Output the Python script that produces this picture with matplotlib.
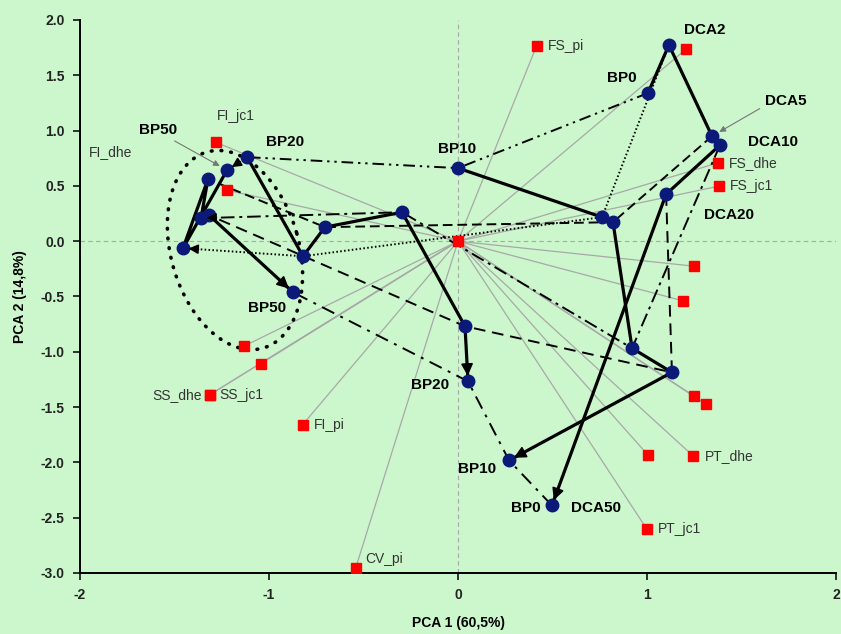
import numpy as np
import matplotlib
matplotlib.use("Agg")
import matplotlib.pyplot as plt

plt.rcParams["font.family"] = ["Liberation Sans", "DejaVu Sans"]

# ---------------------------------------------------------------------------
# Data
# ---------------------------------------------------------------------------

# variable loadings (red squares, joined to the origin)
var_names = ["FS_pi", "", "FI_jc1", "", "FS_dhe", "FS_jc1", "", "", "", "",
             "", "PT_dhe", "PT_jc1", "FI_pi", "SS_dhe", "SS_jc1", "", "", "CV_pi"]
var_x = [0.416, 1.206, -1.280, -1.224, 1.377, 1.381, 1.250, 1.192, 1.249, 1.312,
         1.007, 1.245, 0.998, -0.822, -1.312, -1.312, -1.042, -1.130, -0.541]
var_y = [1.767, 1.735, 0.893, 0.462, 0.709, 0.498, -0.226, -0.540, -1.400, -1.475,
         -1.937, -1.943, -2.600, -1.659, -1.387, -1.387, -1.107, -0.947, -2.953]

# sample scores: one trajectory per BP dose, sampled at the same days
days = [0, 2, 5, 10, 20, 50]
bp0_x = [1.005, 1.116, 1.344, 1.386, 1.101, 0.497]
bp0_y = [1.339, 1.774, 0.950, 0.869, 0.425, -2.389]
bp10_x = [0.000, 0.762, 0.820, 0.921, 1.132, 0.270]
bp10_y = [0.661, 0.217, 0.172, -0.968, -1.186, -1.982]
bp20_x = [-1.116, -0.820, -0.704, -0.296, 0.037, 0.053]
bp20_y = [0.760, -0.136, 0.127, 0.262, -0.769, -1.267]
bp50_x = [-1.222, -1.455, -1.323, -1.360, -1.317, -0.873]
bp50_y = [0.643, -0.063, 0.561, 0.208, 0.235, -0.462]

series = {"BP0": (bp0_x, bp0_y), "BP10": (bp10_x, bp10_y),
          "BP20": (bp20_x, bp20_y), "BP50": (bp50_x, bp50_y)}

# point labels: (text, series, day index)
point_labels = [("DCA2", "BP0", 1), ("BP0", "BP0", 0), ("DCA10", "BP0", 3),
                ("DCA20", "BP0", 4), ("BP10", "BP10", 0), ("BP20", "BP20", 0),
                ("BP50", "BP50", 5), ("BP20", "BP20", 5), ("BP10", "BP10", 5),
                ("BP0", "BP0", 5), ("DCA50", "BP0", 5)]

# ---------------------------------------------------------------------------
# Styles / layout
# ---------------------------------------------------------------------------
BG = "#ccf7cc"
NAVY = "#0b1a78"
GREY = "#a8a8a8"

var_offsets = {"FS_pi": (8, 0, "left"), "FI_jc1": (14, 19, "center"),
               "FS_dhe": (8, 0, "left"), "FS_jc1": (8, 0, "left"),
               "PT_dhe": (8, 0, "left"), "PT_jc1": (8, 0, "left"),
               "FI_pi": (8, 0, "left"), "SS_dhe": (-6, 0, "right"),
               "SS_jc1": (7, 0, "left"), "CV_pi": (7, 6, "left")}
label_offsets = [(26, 11), (-19, 11), (38, 2), (45, -15), (-1, 14), (27, 11),
                 (-19, -11), (-27, -3), (-23, -6), (-19, -2), (32, -2)]

day_styles = {0: (0, (6, 2.5, 1.2, 2.5, 1.2, 2.5)),
              2: (0, (0.8, 1.2)),
              5: (0, (5, 2.5)),
              10: (0, (7, 2.5, 1.5, 2.5)),
              20: (0, (6, 3.5)),
              50: (0, (7, 3.5, 1.5, 3.5))}
day_arrows = {0, 2, 10}


def arrow_head(ax, p0, p1, back=5.5, length=10, scale=16):
    """Draw a filled arrow head pointing at p1 (data), stopping at the marker edge."""
    tr = ax.transData
    a = tr.transform(p0)
    b = tr.transform(p1)
    u = (b - a) / np.hypot(*(b - a))
    tip = b - u * back
    base = tip - u * length
    inv = tr.inverted()
    ax.annotate("", xy=inv.transform(tip), xytext=inv.transform(base),
                arrowprops=dict(arrowstyle="-|>", color="black", lw=1.2,
                                shrinkA=0, shrinkB=0, mutation_scale=scale),
                zorder=6)


fig = plt.figure(figsize=(8.41, 6.34), dpi=100, facecolor=BG)
ax = fig.add_axes([80 / 841, 61 / 634, 756 / 841, 553 / 634], facecolor=BG)
ax.set_xlim(-2, 2)
ax.set_ylim(-3, 2)

# reference axes through the origin
ax.axhline(0, color=GREY, lw=0.8, ls=(0, (4, 3)), zorder=1)
ax.axvline(0, color=GREY, lw=0.8, ls=(0, (4, 3)), zorder=1)

# loading vectors
for vx, vy in zip(var_x, var_y):
    ax.plot([0, vx], [0, vy], color=GREY, lw=0.9, zorder=1)

# dotted ellipse round the BP50 group (drawn in pixel units, top leaning left)
bbox = ax.get_window_extent()
sx, sy = bbox.width / 4, bbox.height / 5
t = np.linspace(0, 2 * np.pi, 200)
phi = np.deg2rad(-16)
ex = 64 * np.cos(t) * np.cos(phi) + 102 * np.sin(t) * np.sin(phi)
ey = -64 * np.cos(t) * np.sin(phi) + 102 * np.sin(t) * np.cos(phi)
ax.plot(-1.18 + ex / sx, -0.08 + ey / sy, color="black", lw=2.6,
        ls=(0, (0.2, 2.5)), dash_capstyle="round", zorder=2)

# same-day lines across doses
order = ["BP0", "BP10", "BP20", "BP50"]
for i, d in enumerate(days):
    xs = [series[k][0][i] for k in order]
    ys = [series[k][1][i] for k in order]
    ax.plot(xs, ys, color="black", lw=1.4, ls=day_styles[d], zorder=2)
    if d in day_arrows:
        arrow_head(ax, (xs[-2], ys[-2]), (xs[-1], ys[-1]), scale=14)

# dose trajectories over time
for k in order:
    xs, ys = series[k]
    ax.plot(xs, ys, color="black", lw=2.3, solid_capstyle="round", zorder=3)
    arrow_head(ax, (xs[-2], ys[-2]), (xs[-1], ys[-1]), scale=18)

# variable squares
ax.plot(var_x, var_y, "s", color="#ff0000", ms=6.5, zorder=4)
ax.plot(0, 0, "s", color="#ff0000", ms=6.5, zorder=4)
for name, vx, vy in zip(var_names, var_x, var_y):
    if name and name in var_offsets:
        dx, dy, ha = var_offsets[name]
        ax.annotate(name, (vx, vy), xytext=(dx, dy), textcoords="offset points",
                    ha=ha, va="center", fontsize=10, color="#333333", zorder=7)
ax.text(-1.955, 0.805, "FI_dhe", ha="left", va="center", fontsize=10,
        color="#333333")

# sample points
for k in order:
    ax.plot(series[k][0], series[k][1], "o", color=NAVY, ms=9, zorder=5)

for (txt, key, idx), (dx, dy) in zip(point_labels, label_offsets):
    px, py = series[key][0][idx], series[key][1][idx]
    ax.annotate(txt, (px, py), xytext=(dx, dy), textcoords="offset points",
                ha="center", va="center", fontsize=11, fontweight="bold",
                zorder=7)

# labels with leaders
ax.annotate("DCA5", (bp0_x[2], bp0_y[2]), xytext=(53, 25), textcoords="offset points",
            ha="center", va="center", fontsize=11, fontweight="bold", zorder=7,
            arrowprops=dict(arrowstyle="-|>", color="#777777", lw=0.8,
                            mutation_scale=9, shrinkA=2, shrinkB=6,
                            relpos=(0.0, 0.2)))
ax.annotate("BP50", (bp50_x[0], bp50_y[0]), xytext=(-50, 29), textcoords="offset points",
            ha="center", va="center", fontsize=11, fontweight="bold", zorder=7,
            arrowprops=dict(arrowstyle="-|>", color="#777777", lw=0.8,
                            mutation_scale=9, shrinkA=2, shrinkB=6,
                            relpos=(0.75, 0.0)))

# axes
for s in ("top", "right"):
    ax.spines[s].set_visible(False)
for s in ("left", "bottom"):
    ax.spines[s].set_linewidth(1.4)
ax.set_xticks([-2, -1, 0, 1, 2])
ax.set_xticklabels(["-2", "-1", "0", "1", "2"])
yt = np.arange(-3.0, 2.01, 0.5)
ax.set_yticks(yt)
ax.set_yticklabels([f"{v:.1f}" for v in yt])
ax.tick_params(direction="out", length=5, width=1.3, labelsize=10, pad=6,
               colors="#222222")
for lab in ax.get_xticklabels() + ax.get_yticklabels():
    lab.set_fontweight("bold")
ax.set_xlabel("PCA 1 (60,5%)", fontsize=10, fontweight="bold", labelpad=10)
ax.set_ylabel("PCA 2 (14,8%)", fontsize=10, fontweight="bold", labelpad=10)

fig.savefig("out.png", dpi=100, facecolor=BG)
